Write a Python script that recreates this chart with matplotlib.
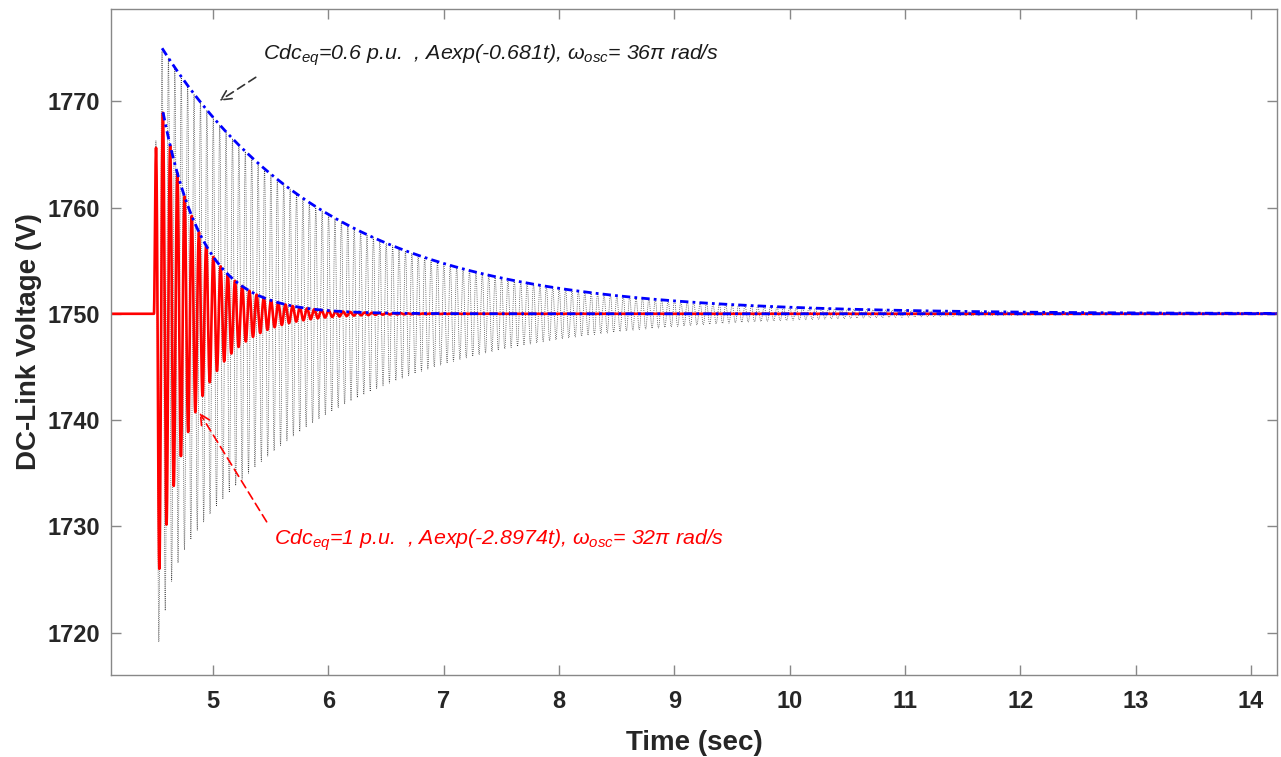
import numpy as np
import matplotlib.pyplot as plt

plt.rcParams['font.family'] = ['Liberation Sans', 'DejaVu Sans']
plt.rcParams['mathtext.fontset'] = 'custom'
plt.rcParams['mathtext.it'] = 'Liberation Sans:italic'
plt.rcParams['mathtext.rm'] = 'Liberation Sans:italic'

# steady DC-link voltage (V)
v_dc = 1750.0

t_on_06 = 4.4875       # oscillation starts
t_peak_06 = 4.557      # first full peak (start of envelope)
amp_06 = 25.0          # first peak above 1750 V
decay_06 = 0.681       # Aexp(-0.681t)
omega_06 = 36 * np.pi  # rad/s
neg_gain_06 = 1.0      # trough / peak ratio (settled)
neg_kick_06 = 0.53     # extra depth of the first troughs
ramp_06 = 0.0155       # start-up ramp (s)

# Cdc_eq = 1 p.u. case (red solid)
t_on_10 = 4.487
t_peak_10 = 4.565
amp_10 = 19.0
decay_10 = 2.8974
omega_10 = 32 * np.pi
neg_gain_10 = 1.1
neg_kick_10 = 0.19
ramp_10 = 0.0144

kick_decay = 13.6

t = np.arange(4.1, 14.23, 0.0005)


def response(t, t_on, t_peak, amp, decay, omega, neg_gain, neg_kick, ramp):
    dt = t - t_on
    env = amp * np.exp(-decay * (t - t_peak))
    wave = np.cos(omega * (t - t_peak))
    neg = neg_gain + neg_kick * np.exp(-kick_decay * np.clip(dt, 0, None))
    wave = np.where(wave < 0, wave * neg, wave)
    rise = 1 - np.exp(-np.clip(dt, 0, None) / ramp)
    return np.where(t >= t_on, v_dc + env * wave * rise, v_dc)


v_06 = response(t, t_on_06, t_peak_06, amp_06, decay_06, omega_06,
                neg_gain_06, neg_kick_06, ramp_06)
v_10 = response(t, t_on_10, t_peak_10, amp_10, decay_10, omega_10,
                neg_gain_10, neg_kick_10, ramp_10)

# envelopes (blue dash-dot)
te_06 = t[t >= t_peak_06]
env_06 = v_dc + amp_06 * np.exp(-decay_06 * (te_06 - t_peak_06))
te_10 = t[t >= t_peak_10]
env_10 = v_dc + amp_10 * np.exp(-decay_10 * (te_10 - t_peak_10))

fig = plt.figure(figsize=(12.81, 7.57), dpi=100)
ax = fig.add_axes([0.0867, 0.1083, 0.910, 0.880])

dashdot = (0, (3, 1.5, 1, 1.5))
ax.plot(t, v_06, color='#333333', linestyle=(0, (1, 1.5)), linewidth=0.55)
ax.plot(t, v_10, color='red', linewidth=1.9)
ax.plot(te_06, env_06, color='blue', linestyle=dashdot, linewidth=2)
ax.plot(te_10, env_10, color='blue', linestyle=dashdot, linewidth=2)

ax.set_xlim(4.115, 14.225)
ax.set_ylim(1716, 1778.7)
ax.set_xticks(range(5, 15))
ax.set_yticks(range(1720, 1771, 10))

for s in ax.spines.values():
    s.set_color('#888888')
    s.set_linewidth(1)
ax.tick_params(direction='in', top=True, right=True, length=7, width=1,
               color='#888888', labelsize=17, labelcolor='#262626', pad=8)
ax.tick_params(axis='x', pad=11)
for lab in ax.get_xticklabels() + ax.get_yticklabels():
    lab.set_fontweight('bold')

ax.set_xlabel('Time (sec)', fontsize=20, fontweight='bold', color='#262626',
              labelpad=12)
ax.set_ylabel('DC-Link Voltage (V)', fontsize=20, fontweight='bold', color='#262626',
              labelpad=4)

# annotations
ax.text(5.434, 1773.95, r'$Cdc_{eq}$=0.6 p.u.  , Aexp(-0.681t), $\omega_{osc}$= 36π rad/s',
        fontsize=15.4, style='italic', color='#1a1a1a', va='baseline')
ax.annotate('', xy=(5.035, 1769.9), xytext=(5.39, 1772.4),
            arrowprops=dict(arrowstyle='->', linestyle=(0, (5, 3)), color='#333333',
                            linewidth=1.2, mutation_scale=18))

ax.text(5.53, 1728.25, r'$Cdc_{eq}$=1 p.u.  , Aexp(-2.8974t), $\omega_{osc}$= 32π rad/s',
        fontsize=15.4, style='italic', color='red', va='baseline')
ax.annotate('', xy=(4.87, 1740.9), xytext=(5.477, 1730.2),
            arrowprops=dict(arrowstyle='->', linestyle=(0, (5, 3)), color='red',
                            linewidth=1.2, mutation_scale=18))

fig.savefig('out.png', dpi=100)
